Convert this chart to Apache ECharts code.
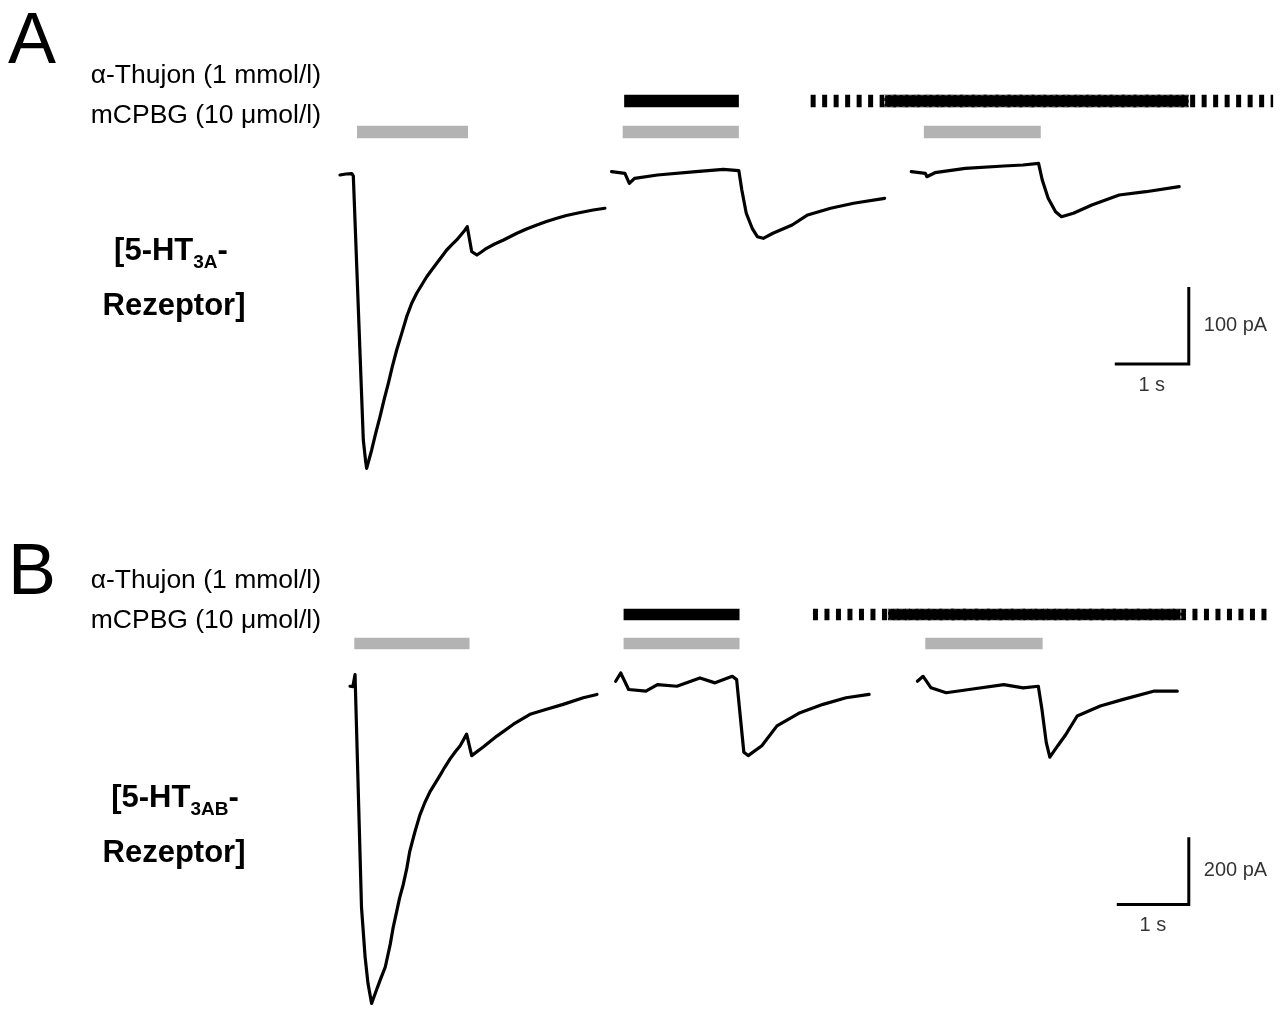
<!DOCTYPE html>
<html>
<head>
<meta charset="utf-8">
<script src="https://cdn.jsdelivr.net/npm/echarts@6/dist/echarts.min.js"></script>
<style>
  html, body { margin: 0; padding: 0; background: #fff; }
  #chart { width: 1284px; height: 1010px; }
</style>
</head>
<body>
<div id="chart"></div>
<script>
// ---------- DATA (time in s, current in pA) ----------
// Panel A: 5-HT3A receptor
const traceA1 = [[0,-1.3],[0.08,0],[0.16,0.6],[0.18,-2.6],[0.315,-345.5],[0.345,-372],[0.36,-382.2],[0.382,-380.1],[0.428,-358.4],[0.482,-336.8],[0.541,-315.2],[0.595,-293.5],[0.653,-271.8],[0.707,-250.3],[0.766,-228.6],[0.834,-207.0],[0.901,-185.3],[0.969,-167.9],[1.036,-154.9],[1.104,-144.2],[1.172,-133.4],[1.239,-124.7],[1.307,-116.0],[1.374,-107.4],[1.442,-98.7],[1.509,-92.2],[1.577,-85.7],[1.645,-77.9],[1.689,-72.7],[1.72,-68.4],[1.78,-100.9],[1.85,-105.2],[1.91,-101.3],[1.98,-96.5],[2.09,-90.9],[2.21,-85.7],[2.39,-77.0],[2.52,-71.4],[2.66,-66.2],[2.79,-61.7],[2.93,-57.5],[3.06,-53.9],[3.20,-51.0],[3.42,-46.8],[3.58,-44.5]];
const traceA2 = [[3.67,3.0],[3.85,0.9],[3.91,-12.1],[3.98,-5.6],[4.29,-1.3],[4.81,3.0],[5.18,6.1],[5.39,4.3],[5.43,-20.8],[5.49,-51.0],[5.57,-70.5],[5.64,-81.4],[5.72,-83.5],[5.85,-77.0],[6.11,-66.2],[6.32,-53.2],[6.63,-44.5],[6.94,-38.0],[7.36,-31.6]];
const traceA3 = [[7.72,3.0],[7.91,0.9],[7.93,-3.5],[8.04,1.7],[8.45,7.4],[8.97,10.4],[9.23,11.7],[9.44,13.9],[9.49,-7.8],[9.57,-31.6],[9.67,-49.0],[9.75,-55.5],[9.91,-51.0],[10.16,-40.3],[10.53,-27.3],[10.89,-23.0],[11.34,-16.5]];
// Application bars A: [start s, end s, row index (0 = mCPBG, 1 = alpha-Thujon)]
const mcpbgA = [[0.23,1.73,0],[3.82,5.39,0],[7.89,9.47,0]];
const thujonA = [[3.84,5.39,1]];
const thujonPreA = [[6.36,12.61,1]];
const thujonCoA = [[7.36,11.47,1]];
const scaleBarA = [[10.47,-246.8],[11.47,-246.8],[11.47,-146.8]];
const scaleLabelsA = [[11.47,-196.8,'100 pA','right'],[10.97,-246.8,'1 s','bottom']];

// Panel B: 5-HT3AB receptor
const traceB1 = [[0,0.9],[0.04,0],[0.07,35.3],[0.16,-655.9],[0.21,-802.9],[0.25,-881.5],[0.30,-940.3],[0.35,-910.9],[0.42,-870.6],[0.49,-832.4],[0.56,-763.8],[0.60,-714.7],[0.65,-665.6],[0.69,-626.5],[0.74,-587.4],[0.79,-538.2],[0.83,-489.1],[0.90,-432.4],[0.97,-381.5],[1.04,-344.1],[1.11,-312.6],[1.18,-288.2],[1.25,-263.8],[1.32,-238.2],[1.39,-214.7],[1.46,-194.1],[1.53,-175.6],[1.62,-141.2],[1.69,-205.0],[1.85,-179.4],[2.04,-147.1],[2.27,-111.8],[2.50,-82.4],[2.73,-67.6],[2.96,-52.9],[3.24,-33.2],[3.43,-23.5]];
const traceB2 = [[3.69,15.6],[3.76,40.3],[3.87,-8.8],[4.11,-13.8],[4.27,5.9],[4.54,0.9],[4.86,25.6],[5.07,10.9],[5.31,30.3],[5.37,20.6],[5.42,-87.4],[5.47,-195.0],[5.53,-205.0],[5.72,-175.6],[5.93,-116.8],[6.25,-77.6],[6.57,-52.9],[6.89,-33.2],[7.21,-23.5]];
const traceB3 = [[7.88,15.6],[7.96,30.3],[8.07,-3.8],[8.28,-18.5],[8.60,-8.8],[9.08,5.9],[9.35,-3.8],[9.56,0.9],[9.61,-67.6],[9.67,-165.6],[9.72,-209.7],[9.83,-175.6],[9.93,-146.2],[10.10,-87.4],[10.42,-58.0],[10.74,-38.2],[11.16,-13.8],[11.49,-13.8]];
const mcpbgB = [[0.06,1.66,0],[3.80,5.41,0],[7.99,9.62,0]];
const thujonB = [[3.80,5.41,1]];
const thujonPreB = [[6.43,12.81,1]];
const thujonCoB = [[7.47,11.54,1]];
const scaleBarB = [[10.65,-647],[11.65,-647],[11.65,-447]];
const scaleLabelsB = [[11.65,-547,'200 pA','right'],[11.15,-647,'1 s','bottom']];

const rowNames = ['mCPBG (10 \u03bcmol/l)', '\u03b1-Thujon (1 mmol/l)'];

// ---------- LAYOUT ----------
const FONT = '"Liberation Sans", Arial, sans-serif';
const panels = [
  { key:'A', pxPerS:74, originX:340, xmin:-4, xmax:12.7, pxPerPA:0.77, originY:174, ymax:150, ymin:-420, barTop:85.5, barH:62,
    traces:[traceA1,traceA2,traceA3], mcpbg:mcpbgA, thujon:thujonA, pre:thujonPreA, co:thujonCoA, scale:scaleBarA, scaleLabels:scaleLabelsA },
  { key:'B', pxPerS:72, originX:350, xmin:-4, xmax:12.9, pxPerPA:0.34, originY:687, ymax:150, ymin:-960, barTop:600, barH:58,
    traces:[traceB1,traceB2,traceB3], mcpbg:mcpbgB, thujon:thujonB, pre:thujonPreB, co:thujonCoB, scale:scaleBarB, scaleLabels:scaleLabelsB }
];

const grid = [], xAxis = [], yAxis = [], series = [];

function barSeries(gi, data, kind) {
  return {
    type:'custom', xAxisIndex:gi, yAxisIndex:gi, data:data, animation:false, silent:true,
    renderItem: function (params, api) {
      const s = api.coord([api.value(0), api.value(2)]);
      const e = api.coord([api.value(1), api.value(2)]);
      const h = api.size([0, 1])[1] * 0.4;
      if (kind === 'dashed') {
        return { type:'line', shape:{x1:s[0], y1:s[1], x2:e[0], y2:e[1]},
          style:{stroke:'#000', lineWidth:h, lineDash:[5,6.5], fill:null} };
      }
      if (kind === 'co') {
        return { type:'rect', shape:{x:s[0], y:s[1]-h/2, width:e[0]-s[0], height:h},
          style:{fill:'#000', stroke:'#c4c4c4', lineWidth:1, lineDash:[3,3]} };
      }
      return { type:'rect', shape:{x:s[0], y:s[1]-h/2, width:e[0]-s[0], height:h},
        style:{fill: kind === 'gray' ? '#b3b3b3' : '#000'} };
    }
  };
}

panels.forEach(function (p, i) {
  const left = p.originX + p.xmin * p.pxPerS;
  const width = (p.xmax - p.xmin) * p.pxPerS;
  const top = p.originY - p.ymax * p.pxPerPA;
  const height = (p.ymax - p.ymin) * p.pxPerPA;
  const gTrace = i * 2, gBar = i * 2 + 1;
  grid.push({ left:left, top:top, width:width, height:height, containLabel:false, show:false });
  grid.push({ left:left, top:p.barTop, width:width, height:p.barH, containLabel:false, show:false });
  xAxis.push({ type:'value', gridIndex:gTrace, min:p.xmin, max:p.xmax, show:false });
  xAxis.push({ type:'value', gridIndex:gBar, min:p.xmin, max:p.xmax, show:false });
  yAxis.push({ type:'value', gridIndex:gTrace, min:p.ymin, max:p.ymax, show:false });
  yAxis.push({ type:'category', gridIndex:gBar, data:rowNames, show:false });

  p.traces.forEach(function (tr) {
    series.push({ type:'line', xAxisIndex:gTrace, yAxisIndex:gTrace, data:tr, showSymbol:false, symbol:'none',
      animation:false, silent:true, lineStyle:{ color:'#000', width:3.2, join:'round', cap:'round' } });
  });
  series.push({ type:'line', xAxisIndex:gTrace, yAxisIndex:gTrace, data:p.scale, showSymbol:false, symbol:'none',
    animation:false, silent:true, lineStyle:{ color:'#000', width:3, join:'miter', cap:'butt' } });
  series.push({ type:'scatter', xAxisIndex:gTrace, yAxisIndex:gTrace, symbolSize:0, animation:false, silent:true,
    data: p.scaleLabels.map(function (d) {
      return { value:[d[0], d[1]], label:{ show:true, formatter:d[2], position:d[3], distance: d[3] === 'right' ? 15 : 11,
        color:'#000', fontSize:20, fontFamily:FONT } };
    }) });
  series.push(barSeries(gBar, p.mcpbg, 'gray'));
  series.push(barSeries(gBar, p.pre, 'dashed'));
  series.push(barSeries(gBar, p.co, 'co'));
  series.push(barSeries(gBar, p.thujon, 'black'));
});

function txt(x, y, text, size, align, weight) {
  return { type:'text', x:x, y:y, silent:true,
    style:{ text:text, fill:'#000', font:(weight || 'normal') + ' ' + size + 'px ' + FONT, align:align, verticalAlign:'middle' } };
}
function recLabel(x, y, sub) {
  return { type:'text', x:x, y:y, silent:true,
    style:{ text:'{b|[5-HT}{s|' + sub + '}{b|-}', align:'center', verticalAlign:'middle',
      rich:{ b:{ fontSize:31, fontWeight:'bold', fontFamily:FONT, fill:'#000', verticalAlign:'top', lineHeight:37 },
             s:{ fontSize:19, fontWeight:'bold', fontFamily:FONT, fill:'#000', verticalAlign:'bottom', lineHeight:37 } } } };
}

const graphic = [
  txt(8, 43, 'A', 72, 'left'),
  txt(321, 76, rowNames[1], 26.5, 'right'),
  txt(321, 116, rowNames[0], 26.5, 'right'),
  recLabel(171, 254, '3A'),
  txt(174, 306, 'Rezeptor]', 31, 'center', 'bold'),
  txt(8, 574, 'B', 72, 'left'),
  txt(321, 581, rowNames[1], 26.5, 'right'),
  txt(321, 621, rowNames[0], 26.5, 'right'),
  recLabel(175, 801, '3AB'),
  txt(174, 853, 'Rezeptor]', 31, 'center', 'bold')
];

const chart = echarts.init(document.getElementById('chart'), null, { renderer:'canvas' });
chart.setOption({ backgroundColor:'#fff', animation:false, grid:grid, xAxis:xAxis, yAxis:yAxis, series:series, graphic:graphic });
</script>
</body>
</html>
